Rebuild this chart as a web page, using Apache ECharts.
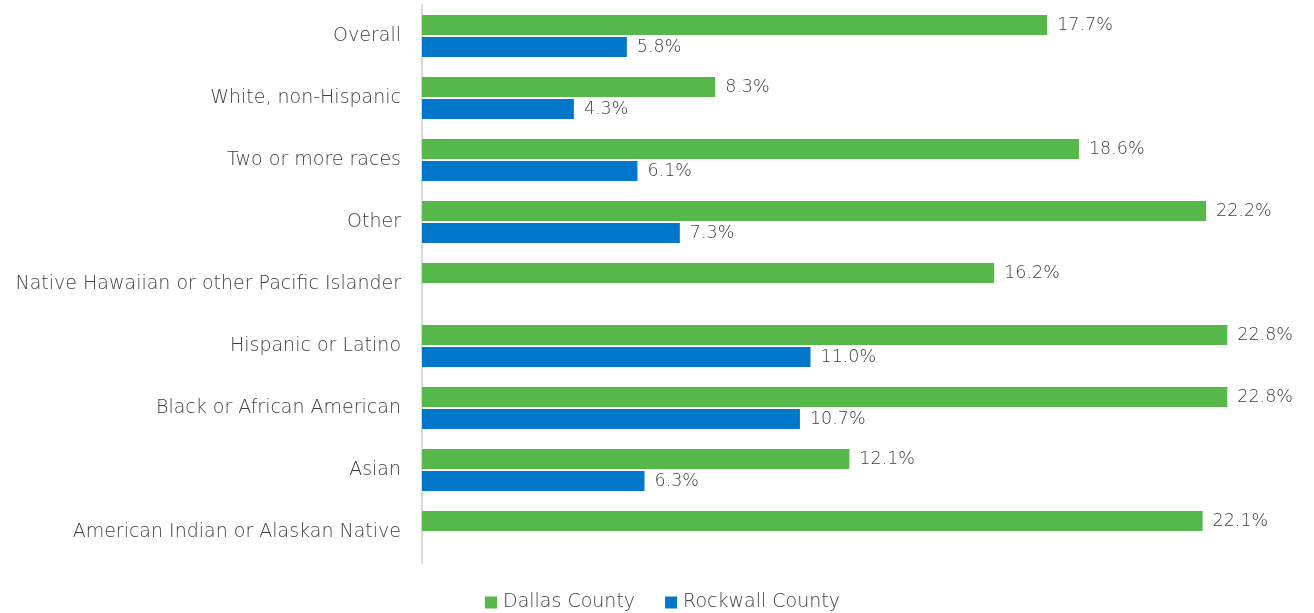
<!DOCTYPE html>
<html>
<head>
<meta charset="utf-8">
<script src="https://cdn.jsdelivr.net/npm/echarts@6/dist/echarts.min.js"></script>
<style>
html,body{margin:0;padding:0;background:#fff;}
#chart{width:1314px;height:613px;}
</style>
</head>
<body>
<div id="chart"></div>
<script>
const categories = [
  "American Indian or Alaskan Native",
  "Asian",
  "Black or African American",
  "Hispanic or Latino",
  "Native Hawaiian or other Pacific Islander",
  "Other",
  "Two or more races",
  "White, non-Hispanic",
  "Overall"
];
const dallasValues = [22.1, 12.1, 22.8, 22.8, 16.2, 22.2, 18.6, 8.3, 17.7];
const rockwallValues = [null, 6.3, 10.7, 11.0, null, 7.3, 6.1, 4.3, 5.8];
const seriesNames = ["Dallas County", "Rockwall County"];

const FONT = "'DejaVu Sans'";
const TXT = "#404040";

const chart = echarts.init(document.getElementById('chart'));
const labelCfg = {
  show: true,
  position: 'right',
  distance: 10,
  color: TXT,
  fontFamily: FONT,
  fontSize: 17.5,
  fontWeight: 200,
  formatter: p => p.value == null ? '' : p.value.toFixed(1) + '%'
};
chart.setOption({
  animation: false,
  textStyle: { fontFamily: FONT },
  grid: { left: 422, right: 9, top: 5, bottom: 50, containLabel: false },
  legend: {
    top: 593,
    left: 485,
    padding: 0,
    itemWidth: 12,
    itemHeight: 12,
    itemGap: 30,
    icon: 'rect',
    textStyle: { color: TXT, fontFamily: FONT, fontSize: 19, fontWeight: 200, padding: [0, 0, 0, 1] },
    data: seriesNames
  },
  xAxis: {
    type: 'value',
    min: 0,
    max: 25,
    show: false
  },
  yAxis: {
    type: 'category',
    data: categories,
    axisLine: { show: true, lineStyle: { color: '#d9d9d9', width: 2 } },
    axisTick: { show: false },
    axisLabel: { color: TXT, fontFamily: FONT, fontSize: 19, fontWeight: 200, margin: 21 }
  },
  series: [
    {
      name: seriesNames[0],
      type: 'bar',
      data: dallasValues,
      barWidth: 20,
      barGap: '10%',
      itemStyle: { color: '#56b84b' },
      label: labelCfg
    },
    {
      name: seriesNames[1],
      type: 'bar',
      data: rockwallValues,
      barWidth: 20,
      itemStyle: { color: '#0077c8' },
      label: labelCfg
    }
  ]
});
</script>
</body>
</html>
